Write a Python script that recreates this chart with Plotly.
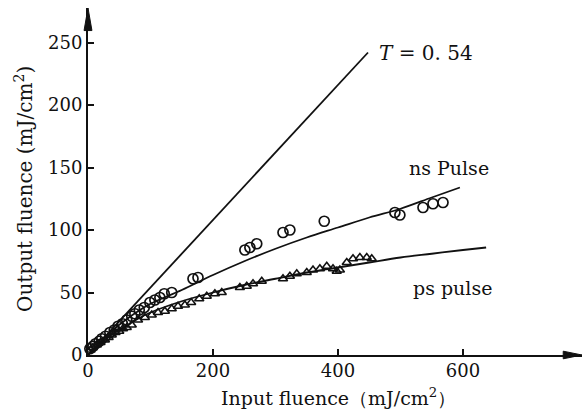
import plotly.graph_objects as go

# ---- data ----
ns_x = [3, 8, 12, 18, 22, 28, 35, 42, 48, 55, 62, 70, 75, 82, 90, 99, 107, 115, 122, 134,
        168, 176, 251, 259, 270, 312, 323, 378, 491, 499, 536, 552, 568]
ns_y = [5, 7, 9, 11, 13, 15, 18, 20, 23, 25, 28, 31, 33, 36, 38, 42, 44, 46, 49, 50,
        61, 62, 84, 86, 89, 98, 100, 107, 114, 112, 118, 121, 122]

ps_x = [4, 8, 14, 20, 27, 33, 38, 44, 50, 56, 62, 70, 80, 91, 102, 112, 123, 134, 144, 155,
        165, 178, 190, 203, 214, 243, 254, 264, 278, 312, 323, 334, 350, 360, 371, 382,
        392, 398, 403, 414, 424, 435, 446, 454]
ps_y = [4, 6, 8, 10, 12, 14, 16, 18, 19, 21, 22, 24, 28, 30, 32, 34, 35, 37, 39, 40,
        42, 45, 47, 49, 50, 54, 55, 57, 59, 61, 63, 65, 66, 68, 69, 71,
        69, 67, 68, 74, 77, 78, 78, 77]

ns_fit_x = [0, 20, 40, 60, 80, 100, 150, 200, 250, 300, 350, 400, 450, 500, 550, 595]
ns_fit_y = [0, 10.5, 20, 28, 35, 41, 52, 64, 75, 85, 94, 102, 110, 117, 126, 134]

ps_fit_x = [0, 20, 40, 60, 80, 100, 150, 200, 250, 300, 350, 400, 450, 500, 550, 600, 637]
ps_fit_y = [0, 9, 17, 23, 29, 34, 43, 50, 56, 61, 66, 70, 74, 78, 81, 84, 86]

t_x = [0, 448]
t_y = [0, 242]

x_ticks = [0, 200, 400, 600]
y_ticks = [0, 50, 100, 150, 200, 250]

FONT = "DejaVu Serif"
BLACK = "#111111"

fig = go.Figure()
fig.add_trace(go.Scatter(x=t_x, y=t_y, mode="lines", hoverinfo="skip",
                         line=dict(color=BLACK, width=1.8), cliponaxis=False))
fig.add_trace(go.Scatter(x=ns_fit_x, y=ns_fit_y, mode="lines", line_shape="spline",
                         hoverinfo="skip", line=dict(color=BLACK, width=1.8), cliponaxis=False))
fig.add_trace(go.Scatter(x=ps_fit_x, y=ps_fit_y, mode="lines", line_shape="spline",
                         hoverinfo="skip", line=dict(color=BLACK, width=1.8), cliponaxis=False))
fig.add_trace(go.Scatter(x=ns_x, y=ns_y, mode="markers", cliponaxis=False,
                         marker=dict(symbol="circle-open", size=10, color=BLACK,
                                     line=dict(color=BLACK, width=1.7))))
fig.add_trace(go.Scatter(x=ps_x, y=ps_y, mode="markers", cliponaxis=False,
                         marker=dict(symbol="triangle-up-open", size=8, color=BLACK,
                                     line=dict(color=BLACK, width=1.6))))

ann = [
    dict(x=463, y=242, text="<i>T</i> = 0. 54", xanchor="left", yanchor="middle",
         showarrow=False, font=dict(family=FONT, size=20, color=BLACK)),
    dict(x=510, y=150, text="ns Pulse", xanchor="left", yanchor="middle",
         showarrow=False, font=dict(family=FONT, size=19, color=BLACK)),
    dict(x=517, y=54, text="ps pulse", xanchor="left", yanchor="middle",
         showarrow=False, font=dict(family=FONT, size=19, color=BLACK)),
    dict(x=0.508, y=-0.122, xref="paper", yref="paper",
         text="Input fluence\uff08mJ/cm<sup>2</sup>\uff09", xanchor="center",
         yanchor="middle", showarrow=False, font=dict(family=FONT, size=19, color=BLACK)),
    dict(x=-0.13, y=0.478, xref="paper", yref="paper",
         text="Output fluence (mJ/cm<sup>2</sup>)", textangle=-90,
         xanchor="center", yanchor="middle", showarrow=False,
         font=dict(family=FONT, size=20, color=BLACK)),
]

# axis arrowheads (paper coordinates)
shapes = [
    dict(type="path", xref="paper", yref="paper", path="M 0.962 -0.011 L 1.0 0 L 0.962 0.011 Z",
         fillcolor=BLACK, line=dict(color=BLACK, width=1)),
    dict(type="path", xref="paper", yref="paper", path="M -0.008 0.935 L 0 1.0 L 0.008 0.935 Z",
         fillcolor=BLACK, line=dict(color=BLACK, width=1)),
]

fig.update_layout(
    width=583, height=412,
    margin=dict(l=88, r=1, t=8, b=57),
    paper_bgcolor="white", plot_bgcolor="white",
    showlegend=False,
    annotations=ann,
    shapes=shapes,
    xaxis=dict(range=[0, 790.4], tickvals=x_ticks, ticktext=[str(v) for v in x_ticks],
               showgrid=False, zeroline=False, showline=True, linecolor=BLACK, linewidth=2,
               ticks="inside", ticklen=6, tickwidth=1.5, tickcolor=BLACK,
               ticklabelstandoff=-2,
               tickfont=dict(family=FONT, size=18, color=BLACK)),
    yaxis=dict(range=[0, 277.6], tickvals=y_ticks, ticktext=[str(v) for v in y_ticks],
               showgrid=False, zeroline=False, showline=True, linecolor=BLACK, linewidth=2,
               ticks="inside", ticklen=6, tickwidth=1.5, tickcolor=BLACK,
               tickfont=dict(family=FONT, size=18, color=BLACK)),
)

fig.write_html("out.html", config={"displayModeBar": False},
               post_script="document.body.style.margin='0';document.body.style.overflow='hidden';")
